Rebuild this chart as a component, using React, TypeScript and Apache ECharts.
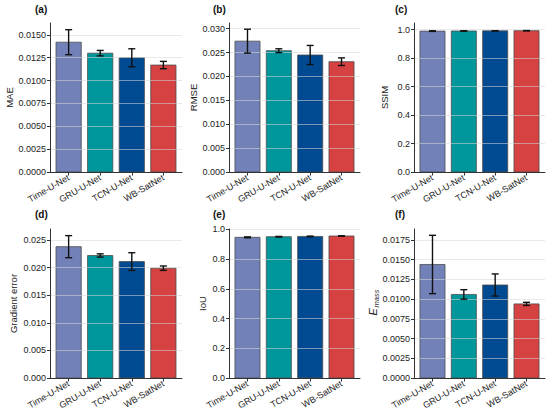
import React, { useEffect, useRef } from "react";
import * as echarts from "echarts";

const categories = ["Time-U-Net", "GRU-U-Net", "TCN-U-Net", "WB-SatNet"];
const barColors = ["#7282B9", "#00979C", "#004A92", "#D64141"];

const maeMean = [0.0142, 0.013, 0.0125, 0.0117];
const maeStd = [0.00137, 0.0003, 0.00098, 0.0004];
const rmseMean = [0.0274, 0.0254, 0.0245, 0.0231];
const rmseStd = [0.0025, 0.0004, 0.002, 0.0008];
const ssimMean = [0.99, 0.991, 0.992, 0.993];
const ssimStd = [0.002, 0.001, 0.001, 0.001];
const gradMean = [0.0238, 0.0222, 0.0211, 0.0199];
const gradStd = [0.002, 0.0003, 0.0016, 0.0004];
const iouMean = [0.947, 0.951, 0.953, 0.956];
const iouStd = [0.003, 0.002, 0.002, 0.001];
const massMean = [0.0144, 0.0106, 0.0118, 0.0094];
const massStd = [0.0037, 0.0006, 0.0014, 0.0002];

const maeTicks = [0, 0.0025, 0.005, 0.0075, 0.01, 0.0125, 0.015];
const rmseTicks = [0, 0.005, 0.01, 0.015, 0.02, 0.025, 0.03];
const ssimTicks = [0, 0.2, 0.4, 0.6, 0.8, 1.0];
const gradTicks = [0, 0.005, 0.01, 0.015, 0.02, 0.025];
const iouTicks = [0, 0.2, 0.4, 0.6, 0.8, 1.0];
const massTicks = [0, 0.0025, 0.005, 0.0075, 0.01, 0.0125, 0.015, 0.0175];

const panels = [
  { tag: "(a)", name: "MAE", mean: maeMean, std: maeStd, ticks: maeTicks, dec: 4, max: 0.0163 },
  { tag: "(b)", name: "RMSE", mean: rmseMean, std: rmseStd, ticks: rmseTicks, dec: 3, max: 0.0312 },
  { tag: "(c)", name: "SSIM", mean: ssimMean, std: ssimStd, ticks: ssimTicks, dec: 1, max: 1.047 },
  { tag: "(d)", name: "Gradient error", mean: gradMean, std: gradStd, ticks: gradTicks, dec: 3, max: 0.027 },
  { tag: "(e)", name: "IoU", mean: iouMean, std: iouStd, ticks: iouTicks, dec: 1, max: 1.003 },
  { tag: "(f)", name: "", mean: massMean, std: massStd, ticks: massTicks, dec: 4, max: 0.0189 },
];

const layout = [
  { left: 50, top: 23, width: 132, height: 149, gap: 36, tx: 35, ty: 4 },
  { left: 229, top: 23, width: 131, height: 149, gap: 31, tx: 213, ty: 4 },
  { left: 414, top: 23, width: 131, height: 149, gap: 25, tx: 395, ty: 4 },
  { left: 50, top: 229, width: 132, height: 149, gap: 32, tx: 35, ty: 209 },
  { left: 229, top: 229, width: 131, height: 149, gap: 22, tx: 213, ty: 209 },
  { left: 414, top: 229, width: 131, height: 149, gap: 33, tx: 395, ty: 209 },
];

const FONT = "'Liberation Sans', Arial, sans-serif";

export default function App() {
  const ref = useRef<HTMLDivElement>(null);
  useEffect(() => {
    if (!ref.current) return;
    const chart = echarts.init(ref.current, undefined, { renderer: "svg" });
    const grid: any[] = [];
    const xAxis: any[] = [];
    const yAxis: any[] = [];
    const series: any[] = [];
    const graphic: any[] = [];
    panels.forEach((p, k) => {
      const L = layout[k];
      grid.push({ left: L.left, top: L.top, width: L.width, height: L.height, containLabel: false });
      xAxis.push({
        type: "value",
        gridIndex: k,
        min: -0.59,
        max: 3.59,
        z: 5,
        splitLine: { show: false },
        axisLine: { show: true, onZero: false, lineStyle: { color: "#333", width: 1 } },
        axisTick: { show: true, length: 3.5, customValues: [0, 1, 2, 3], lineStyle: { color: "#333" } },
        axisLabel: {
          customValues: [0, 1, 2, 3],
          rotate: 30,
          margin: 5,
          fontSize: 9,
          fontFamily: FONT,
          color: "#222",
          formatter: (v: number) => categories[Math.round(v)] ?? "",
        },
      });
      yAxis.push({
        type: "value",
        gridIndex: k,
        min: 0,
        max: p.max,
        z: 3,
        name: p.name,
        nameLocation: "middle",
        nameGap: L.gap,
        nameRotate: 90,
        nameTextStyle: { fontSize: 9.5, fontFamily: FONT, color: "#222" },
        axisLine: { show: true, onZero: false, lineStyle: { color: "#333", width: 1 } },
        axisTick: { show: true, length: 3, customValues: p.ticks, lineStyle: { color: "#333" } },
        axisLabel: {
          customValues: p.ticks,
          margin: 4,
          fontSize: 9,
          fontFamily: FONT,
          color: "#222",
          formatter: (v: number) => v.toFixed(p.dec),
        },
        splitLine: { show: true, lineStyle: { color: "rgba(215,215,215,0.55)", width: 1 } },
      });
      series.push({
        type: "custom",
        xAxisIndex: k,
        yAxisIndex: k,
        z: 2,
        clip: false,
        data: p.mean.map((v, i) => [i, v]),
        encode: { x: 0, y: 1 },
        renderItem: (params: any, api: any) => {
          const i = api.value(0);
          const v = api.value(1);
          const p1 = api.coord([i - 0.4, v]);
          const p2 = api.coord([i + 0.4, 0]);
          return {
            type: "rect",
            shape: { x: p1[0], y: p1[1], width: p2[0] - p1[0], height: p2[1] - p1[1] },
            style: { fill: barColors[i], stroke: "#4d4d4d", lineWidth: 0.8 },
          };
        },
      });
      series.push({
        type: "custom",
        xAxisIndex: k,
        yAxisIndex: k,
        z: 4,
        clip: false,
        data: p.mean.map((v, i) => [i, v - p.std[i], v + p.std[i]]),
        encode: { x: 0, y: [1, 2] },
        renderItem: (params: any, api: any) => {
          const i = api.value(0);
          const lo = api.coord([i, api.value(1)]);
          const hi = api.coord([i, api.value(2)]);
          const cap = 3.5;
          const st = { stroke: "#111", lineWidth: 1.4 };
          return {
            type: "group",
            children: [
              { type: "line", shape: { x1: lo[0], y1: lo[1], x2: hi[0], y2: hi[1] }, style: st },
              { type: "line", shape: { x1: lo[0] - cap, y1: lo[1], x2: lo[0] + cap, y2: lo[1] }, style: st },
              { type: "line", shape: { x1: hi[0] - cap, y1: hi[1], x2: hi[0] + cap, y2: hi[1] }, style: st },
            ],
          };
        },
      });
      graphic.push({
        type: "text",
        left: L.tx,
        top: L.ty,
        style: { text: p.tag, fontSize: 10, fontWeight: "bold", fontFamily: FONT, fill: "#111" },
      });
    });
    // E_mass axis title (italic E with subscript "mass"), rotated like an axis name
    graphic.push({
      type: "text",
      x: 372.5,
      y: 315.5,
      rotation: Math.PI / 2,
      style: { text: "E", fontSize: 11, fontStyle: "italic", fontFamily: FONT, fill: "#222", align: "left", verticalAlign: "middle" },
    });
    graphic.push({
      type: "text",
      x: 376,
      y: 307.5,
      rotation: Math.PI / 2,
      style: { text: "mass", fontSize: 7.5, fontStyle: "italic", fontFamily: FONT, fill: "#222", align: "left", verticalAlign: "middle" },
    });
    chart.setOption({
      animation: false,
      backgroundColor: "#fff",
      grid,
      xAxis,
      yAxis,
      series,
      graphic,
    });
    return () => chart.dispose();
  }, []);
  return <div ref={ref} style={{ position: "fixed", left: 0, top: 0, width: 550, height: 414 }} />;
}
